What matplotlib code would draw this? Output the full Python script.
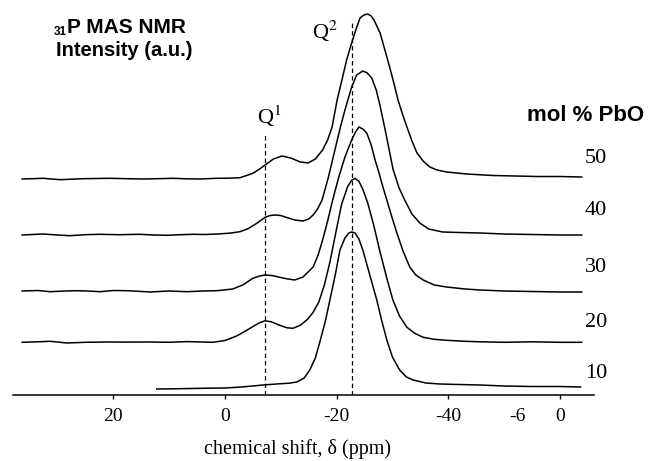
import matplotlib
matplotlib.use('Agg')
import matplotlib.pyplot as plt

plt.rcParams['mathtext.fontset'] = 'stix'

# chemical shift (ppm) and intensity above baseline (a.u.)
ppm_10 = [12.2, 9, 6, 3, 0, -2.5, -5, -7.2, -9.8, -11.5, -12.9, -14.2, -15.2, -16.2, -17.0, -18.0,
          -18.8, -19.8, -20.6, -21.5, -22.2, -22.7, -23.3, -24.0, -24.7, -25.9, -27.2, -28.1, -29.0,
          -30.0, -31.3, -32.5, -33.7, -36.0, -38.5, -42.0, -45.7, -50, -55, -60, -63.7]
int_10 = [0, 0.2, 0.5, 0.8, 1.0, 1.8, 3.0, 4.2, 5.2, 5.8, 7, 11, 19, 31, 47, 68,
          89, 115, 139, 151, 156, 157, 156, 150, 139, 115, 89, 68, 49,
          32, 19, 12, 9, 6, 5, 4.5, 4, 3, 2.5, 2.5, 2]

ppm_20 = [36.3, 33.5, 31.3, 28.3, 25, 21.1, 17.5, 13.4, 10, 6.8, 4, 2.1, 0, -2.1, -3.6, -5.0,
          -6.2, -7.2, -8.3, -9.6, -11.1, -12.2, -13.5, -14.8, -15.8, -16.8, -17.8, -18.8, -19.8,
          -20.9, -22.0, -22.7, -23.3, -24.0, -24.7, -25.6, -26.7, -27.8, -29.0, -30.1, -31.3,
          -32.6, -34.0, -35.5, -37.5, -39.7, -43, -45.7, -50, -55, -60, -63.9]
int_20 = [0, 0.5, 1, -0.7, 0, 0.3, 0.2, 0.3, 0, 0.7, 0.3, 0, 1.8, 6.3, 11, 15.7,
          19.5, 21.5, 20.5, 17.5, 14.5, 14, 17, 23, 30, 40, 57, 80, 108,
          138, 156, 162, 164, 161, 153, 139, 116, 90, 64, 42, 26,
          15, 9, 5, 3, 2, 1, 0.5, 0, 0.5, 0, 0]

ppm_30 = [36.3, 33.5, 31.3, 28.5, 26.5, 24.5, 22.4, 20, 17.5, 15.5, 13.4, 10, 6.8, 4, 1.4, -1.4,
          -3.2, -5.0, -6.2, -7.2, -8.4, -9.6, -10.8, -12.5, -14.0, -15.8, -16.7, -17.5, -18.4,
          -19.3, -20.4, -21.5, -22.7, -23.4, -24.0, -24.7, -25.4, -26.2, -26.9, -27.6, -28.3,
          -29.0, -29.9, -30.8, -31.9, -33.1, -34.2, -35.5, -37.5, -39.7, -43, -45.7, -50, -55,
          -60, -63.9]
int_30 = [0, 0.5, -0.7, 0, 0.3, 0, -0.7, 0.5, 0.3, -0.3, -1, 0, -0.7, 0, 0.3, 2,
          6, 12.7, 15, 16, 15.5, 14, 12.5, 11, 14, 24, 36, 51, 70,
          91, 114, 134, 151, 159, 164, 162, 158, 146, 131, 118, 104,
          91, 74, 58, 40, 24, 16, 11, 6, 4, 2, 1, 0, -0.5,
          -1, -1]

ppm_40 = [36.3, 34.5, 32.6, 30, 27.8, 25, 22.4, 19, 15.2, 12.8, 10.4, 8, 5.7, 3.5, 1.4, -0.8,
          -2.7, -4.2, -5.7, -7.2, -8.1, -9.0, -10.0, -10.8, -12.5, -14.0, -15.0, -15.8, -16.6,
          -17.4, -18.5, -19.7, -20.6, -21.5, -22.7, -23.6, -24.7, -25.5, -26.3, -27.1, -27.8,
          -29.0, -30.1, -31.2, -32.2, -33.5, -34.9, -36.5, -39.0, -42, -45.7, -50, -55, -60, -63.9]
int_40 = [0, 0.5, 1, 0, -0.7, 0.3, 0.7, 0.3, 0.7, 0, -0.3, 0.3, 0.7, 0.5, 1, 1.8,
          3.3, 6.5, 11.7, 17.7, 19.5, 20, 19.5, 18, 15, 14, 16, 20, 26,
          35, 57, 85, 106, 125, 148, 160, 164, 162, 157, 145, 129,
          97, 66, 47, 35, 21, 12, 6, 3, 2.5, 2, 1, 0.5, 0, 0]

ppm_50 = [36.3, 34.5, 32.6, 31, 29.5, 27.5, 25.4, 23, 20.6, 17.5, 14.7, 12, 9.3, 7, 4.5, 2.8,
          1.4, -0.7, -2.7, -3.9, -5.0, -6.1, -7.2, -8.7, -10.2, -11.8, -13.5, -14.9, -16.2,
          -17.5, -18.4, -19.2, -20.1, -21.0, -21.8, -22.7, -23.5, -24.2, -24.9, -25.6, -26.2,
          -26.7, -27.8, -28.6, -29.5, -30.3, -31.0, -31.8, -32.6, -33.5, -34.4, -35.5, -36.7,
          -38.0, -39.7, -43.3, -48, -52, -56, -60, -63.9]
int_50 = [0, 0.3, 0.7, 0, -0.7, -0.2, 0.3, 0.5, 0.7, 0.3, 0, 0.3, 0.7, 0.2, 0, 0.4,
          0.7, 0.8, 1.3, 3.5, 5.7, 9.5, 14, 20, 23, 21, 17, 16, 20,
          29, 39, 52, 79, 100, 119, 136, 150, 161, 164, 165, 163,
          159, 146, 130, 112, 95, 79, 65, 52, 38, 26, 18, 12,
          9, 7, 5, 3.5, 3, 2.5, 2.5, 2]

pbo_labels = ['10', '20', '30', '40', '50']
stack_offset = [6, 52.7, 104, 160, 216]

q_names = ['Q$^1$', 'Q$^2$']
q_ppm = [-7.2, -22.7]

tick_vals = [20, 0, -20, -40, -60]
tick_text = ['20', '0', '-20', '-40', '0']

spectra = [(ppm_10, int_10), (ppm_20, int_20), (ppm_30, int_30), (ppm_40, int_40), (ppm_50, int_50)]

W, H = 648, 461
fig = plt.figure(figsize=(W / 100, H / 100), dpi=100)
ax = fig.add_axes([12.7 / W, 66 / H, (594 - 12.7) / W, 395 / H])
ax.set_xlim(38.0, -66.1)
ax.set_ylim(0, 395)

for (x, y), off in zip(spectra, stack_offset):
    ax.plot(x, [v + off for v in y], color='black', lw=1.1, solid_joinstyle='round')

# reference lines for Q1 / Q2
q_top = [260, 373]
for p, top in zip(q_ppm, q_top):
    ax.plot([p, p], [0, top], color='black', lw=0.9, ls=(0, (3.5, 2.5)))

for s in ['top', 'left', 'right']:
    ax.spines[s].set_visible(False)
ax.spines['bottom'].set_linewidth(1.1)
ax.set_yticks([])
ax.set_xticks(tick_vals)
ax.set_xticklabels(tick_text, fontfamily='Liberation Serif', fontsize=14)
ax.tick_params(axis='x', direction='out', length=3, width=1, pad=6)
ax.set_xticks([-52.3], minor=True)
ax.set_xticklabels(['-6'], minor=True, fontfamily='Liberation Serif', fontsize=14)
ax.tick_params(axis='x', which='minor', length=0, pad=9)

def fpos(x, y):
    return x / W, 1 - y / H

serif = 'Liberation Serif'
sans = 'Liberation Sans'

fig.text(*fpos(297.5, 454), 'chemical shift, δ (ppm)', fontfamily=serif, fontsize=14.5,
         ha='center', va='baseline')

fig.text(*fpos(54, 35), '31', fontfamily=sans, fontweight='bold', fontsize=8.5, va='baseline')
fig.text(*fpos(67, 33), 'P MAS NMR', fontfamily=sans, fontweight='bold', fontsize=15, va='baseline')
fig.text(*fpos(56, 56), 'Intensity (a.u.)', fontfamily=sans, fontweight='bold', fontsize=14.5,
         va='baseline')

fig.text(*fpos(586, 121), 'mol % PbO', fontfamily=sans, fontweight='bold', fontsize=16,
         ha='center', va='baseline')
label_y = [378, 327, 272, 215, 163]
for lab, yy in zip(pbo_labels, label_y):
    fig.text(*fpos(596, yy), lab, fontfamily=serif, fontsize=16, ha='center', va='baseline')

q_lab_pos = [(257, 124), (312, 39)]
for name, (xx, yy) in zip(q_names, q_lab_pos):
    fig.text(*fpos(xx, yy), name, fontfamily=serif, fontsize=16, va='baseline')

fig.savefig('out.png', dpi=100)
